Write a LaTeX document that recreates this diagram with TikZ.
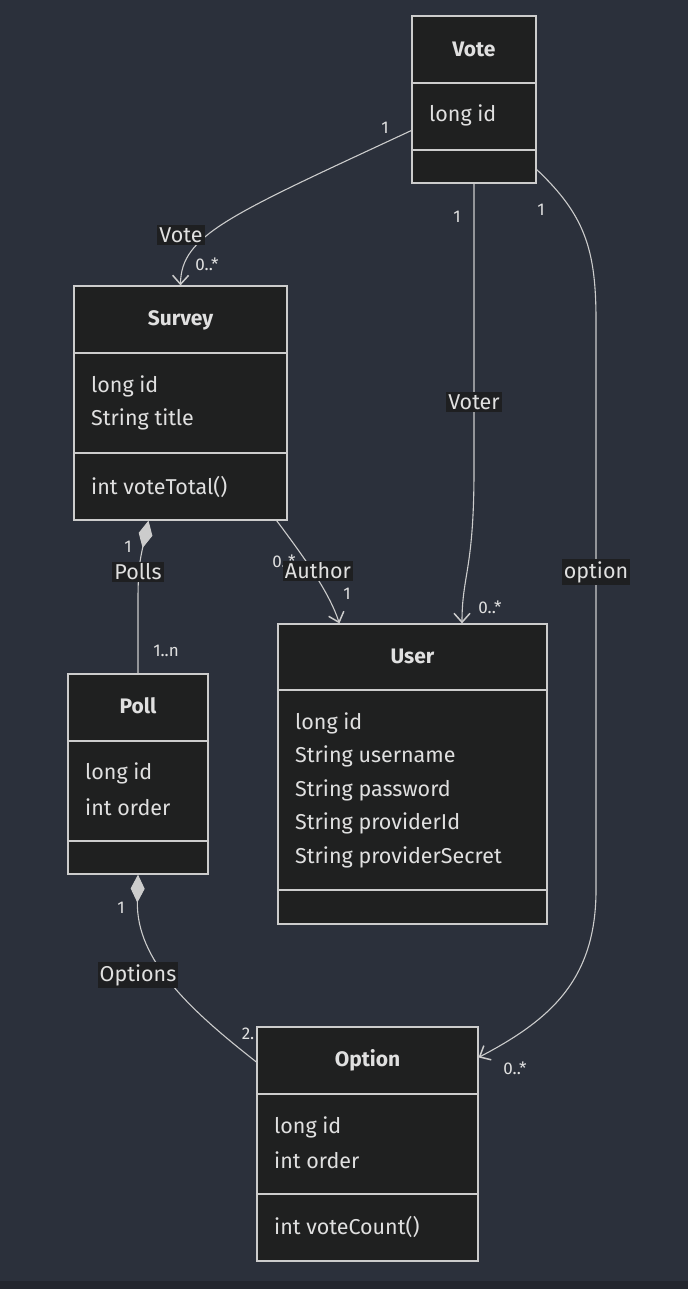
\documentclass[tikz,border=0pt]{standalone}
\usepackage{fontspec}
\setmainfont{Fira Sans}
\usetikzlibrary{arrows.meta,calc}
\definecolor{bgc}{HTML}{2B303B}
\definecolor{boxc}{HTML}{1F2020}
\definecolor{linec}{HTML}{CCCCCC}
\definecolor{txtc}{HTML}{E0E0E0}
\definecolor{stripc}{HTML}{23262E}
\definecolor{lblc}{HTML}{1E1F21}
\tikzset{
  cls/.style={draw=linec, fill=boxc, line width=1.2pt, inner sep=0pt},
  ttl/.style={text=txtc, inner sep=0pt, font=\fontsize{21}{24}\selectfont\bfseries},
  attr/.style={text=txtc, anchor=west, inner sep=0pt, font=\fontsize{21.5}{24}\selectfont},
  lbl/.style={fill=lblc, text=txtc, inner sep=2pt, font=\fontsize{21.5}{24}\selectfont},
  mult/.style={text=txtc, inner sep=0pt, font=\fontsize{17}{19}\selectfont},
  rel/.style={draw=linec, line width=1.1pt},
  dep/.style={rel, -{Straight Barb[length=9pt,width=16pt,line width=1.5pt]}},
  comp/.style={rel, {Diamond[length=28pt,width=14pt,fill=linec]}-},
}

\begin{document}
\begin{tikzpicture}[x=1pt,y=-1pt]
\fill[bgc] (0,0) rectangle (688,1289);
\fill[stripc] (0,1281) rectangle (688,1289);

\node[cls, minimum width=124pt, minimum height=167pt] (vote) at (474,99.5) {};
\node[cls, minimum width=213pt, minimum height=234pt] (survey) at (180.5,403) {};
\node[cls, minimum width=269pt, minimum height=300pt] (user) at (412.5,774) {};
\node[cls, minimum width=140pt, minimum height=200pt] (poll) at (138,774) {};
\node[cls, minimum width=221pt, minimum height=234pt] (option) at (367.5,1144) {};

\draw[rel] (vote.west |- 0,83) -- (vote.east |- 0,83);
\draw[rel] (vote.west |- 0,150) -- (vote.east |- 0,150);
\draw[rel] (survey.west |- 0,353) -- (survey.east |- 0,353);
\draw[rel] (survey.west |- 0,453) -- (survey.east |- 0,453);
\draw[rel] (user.west |- 0,690) -- (user.east |- 0,690);
\draw[rel] (user.west |- 0,890) -- (user.east |- 0,890);
\draw[rel] (poll.west |- 0,741) -- (poll.east |- 0,741);
\draw[rel] (poll.west |- 0,841) -- (poll.east |- 0,841);
\draw[rel] (option.west |- 0,1094) -- (option.east |- 0,1094);
\draw[rel] (option.west |- 0,1194) -- (option.east |- 0,1194);

\node[ttl] (voteT) at (474,49) {Vote};
\node[attr] (voteA) at (429,115) {long id};

\node[ttl] (surveyT) at (180.5,320) {Survey};
\node[attr] (surveyA) at (91,386) {long id};
\node[attr] (surveyB) at (91,419) {String title};
\node[attr] (surveyM) at (91,487) {int voteTotal()};

\node[ttl] (userT) at (412.5,656) {User};
\node[attr] (userA) at (295,723) {long id};
\node[attr] (userB) at (295,756) {String username};
\node[attr] (userC) at (295,790) {String password};
\node[attr] (userD) at (295,823) {String providerId};
\node[attr] (userE) at (295,857) {String providerSecret};

\node[ttl] (pollT) at (138,706) {Poll};
\node[attr] (pollA) at (85,773) {long id};
\node[attr] (pollB) at (85,807) {int order};

\node[ttl] (optionT) at (367.5,1060) {Option};
\node[attr] (optionA) at (274,1127) {long id};
\node[attr] (optionB) at (274,1160) {int order};
\node[attr] (optionM) at (274,1227) {int voteCount()};

\draw[dep] ($(vote.west)+(0,31)$) .. controls (230,215) and (181,235) .. (survey.north);
\draw[dep] (vote.south) -- (474,470) .. controls (474,570) and (462,575) .. ($(user.north)+(49.5,0)$);
\draw[dep] ($(vote.east)+(0,70)$) .. controls (585,215) and (596,250) .. (596,320) -- (596,890) .. controls (596,980) and (550,1020) .. ($(option.north east)+(0,31)$);
\draw[comp] ($(survey.south)+(-32,0)$) .. controls (140,560) and (138,570) .. (138,600) -- (poll.north);
\draw[dep] ($(survey.south east)+(-11,0)$) .. controls (310,565) and (330,595) .. ($(user.north west)+(62,0)$);
\draw[comp] (poll.south) .. controls (136,960) and (190,1010) .. ($(option.west)+(0,-82)$);

\node[mult] (m1) at (385,128) {1};
\node[mult] (m2) at (207,264) {0..*};
\node[mult] (m3) at (457,217) {1};
\node[mult] (m4) at (490,607) {0..*};
\node[mult] (m5) at (541,210) {1};
\node[mult] (m6) at (515,1068) {0..*};
\node[mult] (m7) at (128,547) {1};
\node[mult] (m8) at (166,651) {1..n};
\node[mult] (m9) at (284,561) {0..*};
\node[mult] (m10) at (347,594) {1};
\node[mult] (m11) at (121,908) {1};
\node[mult] (m12) at (248,1034) {2.};

\node[lbl] (lVote) at (181,235) {Vote};
\node[lbl] (lVoter) at (474,402) {Voter};
\node[lbl] (lOption) at (596,572) {option};
\node[lbl] (lPolls) at (138,572) {Polls};
\node[lbl] (lAuthor) at (318,571) {Author};
\node[lbl] (lOptions) at (138,975) {Options};
\end{tikzpicture}
\end{document}
